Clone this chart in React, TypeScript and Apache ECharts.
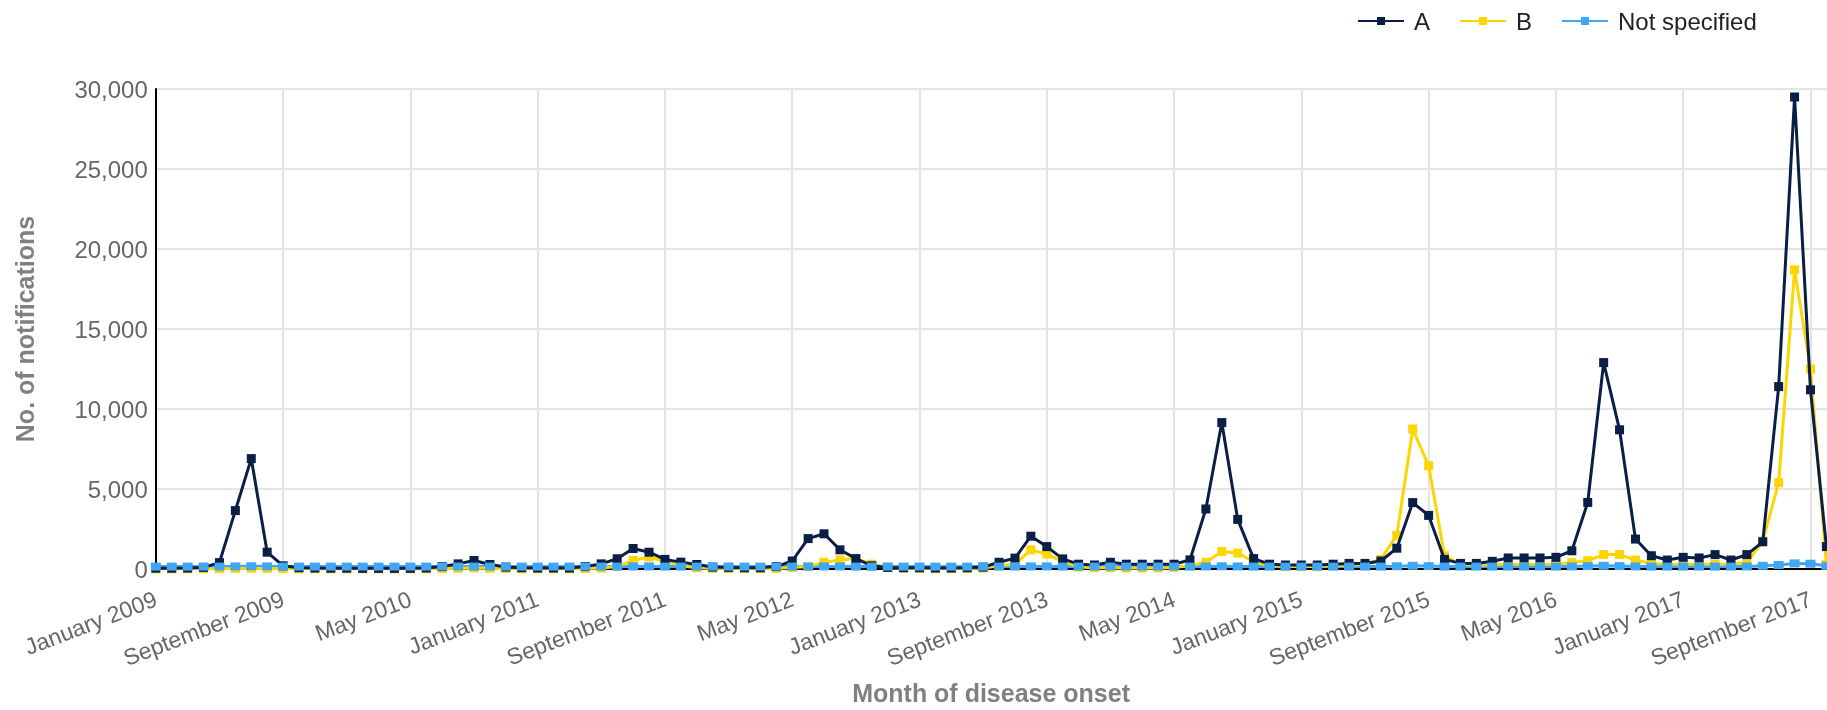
import React, { useEffect, useRef } from "react";
import * as echarts from "echarts";

const MONTHS = [
  "January", "February", "March", "April", "May", "June",
  "July", "August", "September", "October", "November", "December",
];
const YEARS = [2009, 2010, 2011, 2012, 2013, 2014, 2015, 2016, 2017];
// The last month shown is October 2017
const LAST_YEAR_MONTHS = 10;

const CATEGORIES: string[] = [];
YEARS.forEach((y) =>
  MONTHS.forEach((m, i) => {
    if (y < 2017 || i < LAST_YEAR_MONTHS) CATEGORIES.push(`${m} ${y}`);
  })
);

const Y_TICKS = [0, 5000, 10000, 15000, 20000, 25000, 30000];

// Notifications, by month of disease onset (Jan 2009 - Oct 2017)
const SERIES_A = [
  50, 50, 60, 100, 400, 3650, 6900, 1050, 200, 80, 60, 50, // 2009
  50, 40, 40, 40, 40, 60, 150, 320, 530, 280, 120, 80, // 2010
  60, 60, 60, 150, 320, 640, 1280, 1050, 600, 430, 280, 120, // 2011
  100, 80, 80, 150, 500, 1900, 2200, 1200, 650, 200, 100, 80, // 2012
  80, 60, 60, 80, 120, 420, 680, 2050, 1400, 630, 300, 250, // 2013
  420, 300, 300, 300, 300, 570, 3750, 9150, 3100, 650, 300, 250, // 2014
  250, 250, 300, 350, 350, 500, 1300, 4150, 3350, 600, 350, 350, // 2015
  480, 690, 690, 690, 730, 1140, 4160, 12900, 8700, 1870, 830, 560, // 2016
  730, 690, 900, 560, 900, 1700, 11400, 29500, 11200, 1400, // 2017
];

const SERIES_B = [
  10, 10, 10, 10, 20, 30, 40, 30, 20, 10, 10, 10, // 2009
  10, 10, 10, 10, 10, 10, 20, 40, 60, 40, 20, 10, // 2010
  10, 10, 10, 30, 60, 150, 530, 750, 470, 210, 80, 40, // 2011
  30, 20, 20, 40, 100, 150, 420, 570, 650, 300, 100, 50, // 2012
  30, 20, 20, 30, 60, 200, 300, 1200, 930, 460, 120, 80, // 2013
  80, 60, 60, 70, 100, 200, 420, 1100, 1000, 450, 200, 150, // 2014
  150, 150, 200, 250, 300, 600, 2100, 8750, 6450, 830, 300, 250, // 2015
  250, 300, 300, 300, 300, 400, 520, 900, 900, 560, 350, 300, // 2016
  300, 300, 300, 300, 400, 1750, 5400, 18700, 12500, 300, // 2017
];

const SERIES_NS = [
  150, 150, 150, 150, 150, 160, 170, 160, 150, 150, 150, 150, // 2009
  150, 150, 150, 150, 150, 150, 150, 150, 150, 150, 150, 150, // 2010
  150, 150, 150, 150, 150, 150, 160, 160, 150, 150, 150, 150, // 2011
  150, 150, 150, 150, 150, 150, 160, 160, 150, 150, 150, 150, // 2012
  150, 150, 150, 150, 150, 150, 150, 160, 160, 150, 150, 150, // 2013
  150, 150, 150, 150, 150, 150, 160, 170, 160, 150, 150, 150, // 2014
  150, 150, 150, 150, 150, 150, 170, 200, 180, 150, 150, 150, // 2015
  150, 150, 150, 150, 150, 160, 180, 200, 180, 160, 150, 150, // 2016
  150, 150, 150, 150, 160, 200, 250, 350, 330, 200, // 2017
];

const COLOR_A = "#0b1e45";
const COLOR_B = "#ffd500";
const COLOR_NS = "#41a6f4";
const FONT = "'Liberation Sans', Arial, Helvetica, sans-serif";

export default function App() {
  const ref = useRef<HTMLDivElement>(null);

  useEffect(() => {
    if (!ref.current) return;
    const chart = echarts.init(ref.current, undefined, { renderer: "svg" });
    chart.setOption({
      animation: false,
      textStyle: { fontFamily: FONT },
      legend: {
        data: ["A", "B", "Not specified"],
        left: 1357,
        top: 9,
        padding: 0,
        itemWidth: 46,
        itemHeight: 10,
        itemGap: 29,
        textStyle: {
          fontFamily: FONT,
          fontSize: 24,
          color: "#222",
          padding: [0, 0, 0, 5],
        },
      },
      grid: {
        left: 155.8,
        right: 0.6,
        top: 89,
        bottom: 138.3,
        containLabel: false,
      },
      xAxis: {
        type: "category",
        data: CATEGORIES,
        boundaryGap: false,
        name: "Month of disease onset",
        nameLocation: "middle",
        nameGap: 111,
        nameTextStyle: {
          fontFamily: FONT,
          fontSize: 25,
          fontWeight: "bold",
          color: "#808080",
        },
        axisLine: { show: true, lineStyle: { color: "#000", width: 2 } },
        axisTick: { show: false },
        axisLabel: {
          interval: 7,
          rotate: 21,
          margin: 29,
          fontFamily: FONT,
          fontSize: 23,
          color: "#666",
        },
        splitLine: {
          show: true,
          interval: 7,
          lineStyle: { color: "#e4e4e4", width: 2 },
        },
      },
      yAxis: {
        type: "value",
        min: Y_TICKS[0],
        max: Y_TICKS[Y_TICKS.length - 1],
        interval: Y_TICKS[1] - Y_TICKS[0],
        name: "No. of notifications",
        nameLocation: "middle",
        nameGap: 118,
        nameTextStyle: {
          fontFamily: FONT,
          fontSize: 25,
          fontWeight: "bold",
          color: "#808080",
        },
        axisLine: { show: true, lineStyle: { color: "#000", width: 2 } },
        axisTick: { show: false },
        axisLabel: {
          margin: 8,
          fontFamily: FONT,
          fontSize: 24,
          color: "#666",
          formatter: (v: number) => v.toLocaleString("en-US"),
        },
        splitLine: { show: true, lineStyle: { color: "#e4e4e4", width: 2 } },
      },
      series: [
        {
          // line part of "Not specified" (drawn under the others)
          name: "Not specified",
          type: "line",
          data: SERIES_NS,
          symbol: "rect",
          symbolSize: [10, 8],
          showSymbol: false,
          lineStyle: { color: COLOR_NS, width: 3 },
          itemStyle: { color: COLOR_NS },
          z: 1,
        },
        {
          name: "B",
          type: "line",
          data: SERIES_B,
          symbol: "rect",
          symbolSize: 9,
          showAllSymbol: true,
          lineStyle: { color: COLOR_B, width: 3 },
          itemStyle: { color: COLOR_B },
          z: 2,
        },
        {
          name: "A",
          type: "line",
          data: SERIES_A,
          symbol: "rect",
          symbolSize: 9,
          showAllSymbol: true,
          lineStyle: { color: COLOR_A, width: 3 },
          itemStyle: { color: COLOR_A },
          z: 3,
        },
        {
          // markers of "Not specified" (drawn on top)
          name: "Not specified",
          type: "line",
          data: SERIES_NS,
          symbol: "rect",
          symbolSize: [10, 8],
          showAllSymbol: true,
          lineStyle: { color: COLOR_NS, width: 0, opacity: 0 },
          itemStyle: { color: COLOR_NS },
          z: 4,
        },
      ],
    });
    return () => chart.dispose();
  }, []);

  return (
    <div
      ref={ref}
      style={{ position: "fixed", left: 0, top: 0, width: 1827, height: 710 }}
    />
  );
}
